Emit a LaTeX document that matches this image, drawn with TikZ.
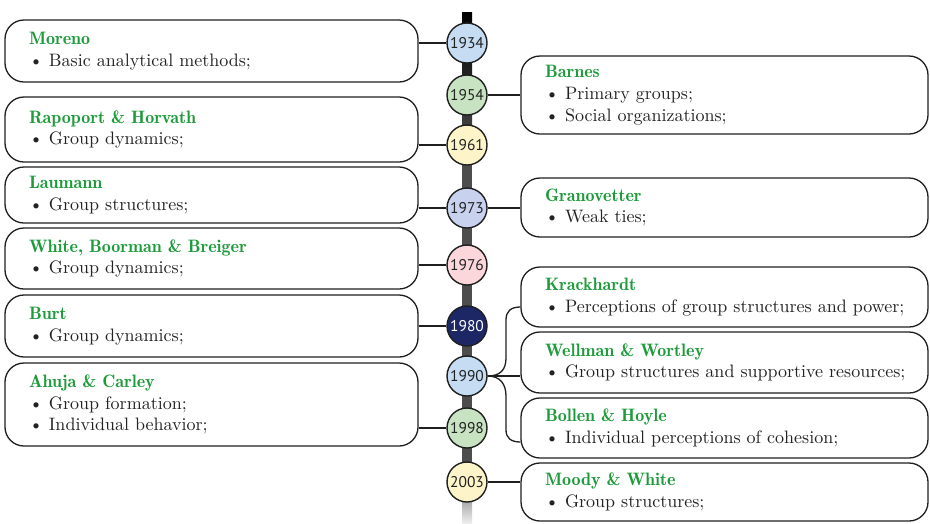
\documentclass[tikz,border=0pt]{standalone}
\usepackage{fontspec}
\setmainfont{lmroman10-regular.otf}[BoldFont=lmromandemi10-regular.otf, ItalicFont=lmroman10-italic.otf]
\newfontfamily\yrfont{PT Sans}
\definecolor{nmgreen}{HTML}{1E9B3B}
\definecolor{bodyc}{HTML}{222222}
\definecolor{lnc}{HTML}{1F1F1F}
\definecolor{cblue}{HTML}{C5DCF3}
\definecolor{cgreen}{HTML}{C8E3C2}
\definecolor{ccream}{HTML}{FDF5C9}
\definecolor{clav}{HTML}{C8D2EE}
\definecolor{cpink}{HTML}{FBD7DC}
\definecolor{cnavy}{HTML}{1D2766}
\definecolor{barg}{HTML}{4D4D4D}
\definecolor{barl}{HTML}{EDEDED}
\newcommand{\nm}[1]{\mbox{\color{nmgreen}\bfseries #1}}
\newcommand{\li}[1]{\mbox{\textbullet\ #1}}
\hbadness=10000 \hfuzz=100pt
\begin{document}
\begin{tikzpicture}[x=1pt,y=-1pt,
  infobox/.style={draw=lnc, line width=1.3pt, rounded corners=19pt, fill=white,
    inner xsep=24pt, inner ysep=0pt, align=left, text=bodyc,
    font=\fontsize{18}{21.7}\selectfont},
  lbox/.style={infobox, minimum width=413pt, text width=365pt},
  rbox/.style={infobox, minimum width=407pt, text width=359pt},
  yr/.style={circle, draw=lnc, line width=1.4pt, minimum size=40pt, inner sep=0pt,
    font=\yrfont\fontsize{15.5}{15.5}\selectfont, text=bodyc},
  conn/.style={draw=lnc, line width=1.3pt}]
\useasboundingbox (0,0) rectangle (930,523);
% timeline bar
\shade[top color=black, bottom color=barg] (462,12) rectangle (472,150);
\fill[barg] (462,149.5) rectangle (472,470);
\shade[top color=barg, bottom color=barl] (462,469.5) rectangle (472,523);
% left boxes
\node[lbox, minimum height=62pt] (moreno) at (211.5,51) {\nm{Moreno}\\\li{Basic analytical methods;}};
\node[lbox, minimum height=65pt] (rapo) at (211.5,129.5) {\nm{Rapoport \& Horvath}\\\li{Group dynamics;}};
\node[lbox, minimum height=56pt] (laum) at (211.5,195) {\nm{Laumann}\\\li{Group structures;}};
\node[lbox, minimum height=61pt] (white) at (211.5,258.5) {\nm{White, Boorman \& Breiger}\\\li{Group dynamics;}};
\node[lbox, minimum height=62pt] (burt) at (211.5,326) {\nm{Burt}\\\li{Group dynamics;}};
\node[lbox, minimum height=83pt] (ahuja) at (211.5,404.5) {\nm{Ahuja \& Carley}\\\li{Group formation;}\\\li{Individual behavior;}};
% right boxes
\node[rbox, minimum height=78pt] (barnes) at (724.5,95) {\nm{Barnes}\\\li{Primary groups;}\\\li{Social organizations;}};
\node[rbox, minimum height=59pt] (grano) at (724.5,207.5) {\nm{Granovetter}\\\li{Weak ties;}};
\node[rbox, minimum height=60pt] (krack) at (724.5,297) {\nm{Krackhardt}\\\li{Perceptions of group structures and power;}};
\node[rbox, minimum height=61pt] (wellman) at (724.5,362.5) {\nm{Wellman \& Wortley}\\\li{Group structures and supportive resources;}};
\node[rbox, minimum height=60pt] (bollen) at (724.5,428) {\nm{Bollen \& Hoyle}\\\li{Individual perceptions of cohesion;}};
\node[rbox, minimum height=58pt] (moody) at (724.5,492) {\nm{Moody \& White}\\\li{Group structures;}};
% year circles
\node[yr, fill=cblue] (y1934) at (467,43) {1934};
\node[yr, fill=cgreen] (y1954) at (467,95) {1954};
\node[yr, fill=ccream] (y1961) at (467,145) {1961};
\node[yr, fill=clav] (y1973) at (467,208) {1973};
\node[yr, fill=cpink] (y1976) at (467,265) {1976};
\node[yr, fill=cnavy, text=white] (y1980) at (467,326) {1980};
\node[yr, fill=cblue] (y1990) at (467,376) {1990};
\node[yr, fill=cgreen] (y1998) at (467,428) {1998};
\node[yr, fill=ccream] (y2003) at (467,482) {2003};
% connectors left
\draw[conn] (y1934.west) -- (y1934.west -| moreno.east);
\draw[conn] (y1961.west) -- (y1961.west -| rapo.east);
\draw[conn] (y1973.west) -- (y1973.west -| laum.east);
\draw[conn] (y1976.west) -- (y1976.west -| white.east);
\draw[conn] (y1980.west) -- (y1980.west -| burt.east);
\draw[conn] (y1998.west) -- (y1998.west -| ahuja.east);
% connectors right
\draw[conn] (y1954.east) -- (y1954.east -| barnes.west);
\draw[conn] (y1973.east) -- (y1973.east -| grano.west);
\draw[conn] (y2003.east) -- (y2003.east -| moody.west);
\draw[conn] (y1990.east) -- (y1990.east -| wellman.west);
\coordinate (kin) at ([yshift=-10pt]krack.west);
\coordinate (bin) at ([yshift=-14pt]bollen.west);
\draw[conn] (y1990.east) .. controls (500,376) and (506,370) .. (506,358) -- (506,320) .. controls (506,311) and (511,307) .. (kin);
\draw[conn] (y1990.east) .. controls (500,376) and (506,384) .. (506,396) -- (506,430) .. controls (506,438) and (511,442) .. (bin);
\end{tikzpicture}
\end{document}
